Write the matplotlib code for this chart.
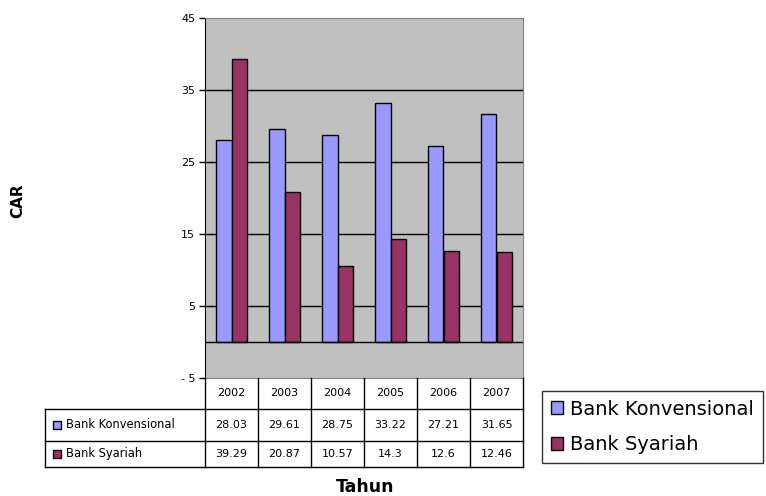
import numpy as np
import matplotlib.pyplot as plt
from matplotlib.patches import Patch, Rectangle

years = ["2002", "2003", "2004", "2005", "2006", "2007"]
konvensional = [28.03, 29.61, 28.75, 33.22, 27.21, 31.65]
syariah = [39.29, 20.87, 10.57, 14.3, 12.6, 12.46]
konv_labels = ["28.03", "29.61", "28.75", "33.22", "27.21", "31.65"]
syar_labels = ["39.29", "20.87", "10.57", "14.3", "12.6", "12.46"]
series_names = ["Bank Konvensional", "Bank Syariah"]

c_konv = "#9999FF"
c_syar = "#993366"
W, H = 766, 496

plt.rcParams['font.family'] = ['DejaVu Sans']
fig = plt.figure(figsize=(W / 100, H / 100), dpi=100)


def px_box(x0, y0, x1, y1):
    """ pixel box (top-left origin) to figure fractions """
    return [x0 / W, 1 - y1 / H, (x1 - x0) / W, (y1 - y0) / H]


# main plot
ax = fig.add_axes(px_box(205, 18, 523, 378))
ax.set_facecolor("#C0C0C0")
x = np.arange(len(years)) + 0.5
bw = 0.3
ax.bar(x - bw / 2, konvensional, bw, color=c_konv, edgecolor="black", linewidth=1, zorder=3)
ax.bar(x + bw / 2, syariah, bw, color=c_syar, edgecolor="black", linewidth=1, zorder=3)
ax.set_xlim(0, len(years))
ax.set_ylim(-5, 45)
yt = [-5, 5, 15, 25, 35, 45]
ax.set_yticks(yt)
ax.set_yticklabels(["- 5"] + [str(v) for v in yt[1:]], fontsize=8)
for v in yt[1:-1]:
    ax.axhline(v, color="black", linewidth=1, zorder=1)
ax.axhline(0, color="black", linewidth=1, zorder=4)
ax.set_xticks([])
ax.tick_params(axis="y", length=4, width=1, pad=3)
ax.spines["left"].set_color("black")
for s in ["top", "right", "bottom"]:
    ax.spines[s].set_color("#808080")

fig.text(18 / W, 1 - 201 / H, "CAR", rotation=90, ha="center", va="center",
         fontsize=11, fontweight="bold")

# data table below the axis
tab = fig.add_axes(px_box(45, 378, 523, 467))
lab_w = 160 / 53
tab.set_xlim(-lab_w, len(years))
rows = [0, 31, 63, 89]
tab.set_ylim(rows[-1], rows[0])
tab.axis("off")
lk = dict(color="black", linewidth=1, clip_on=False)
n = len(years)
tab.plot([0, 0], [rows[0], rows[-1]], **lk)
for i in range(1, n + 1):
    tab.plot([i, i], [rows[0], rows[-1]], **lk)
tab.plot([-lab_w, n], [rows[1], rows[1]], **lk)
tab.plot([-lab_w, n], [rows[2], rows[2]], **lk)
tab.plot([-lab_w, n], [rows[3], rows[3]], **lk)
tab.plot([-lab_w, -lab_w], [rows[1], rows[3]], **lk)
for i, yr in enumerate(years):
    tab.text(i + 0.5, (rows[0] + rows[1]) / 2, yr, ha="center", va="center", fontsize=8)
for r, (name, vals, col) in enumerate(zip(series_names, [konv_labels, syar_labels], [c_konv, c_syar])):
    yc = (rows[r + 1] + rows[r + 2]) / 2
    tab.add_patch(Rectangle((-lab_w + 0.15, yc - 4), 0.15, 8, facecolor=col,
                            edgecolor="black", linewidth=1, clip_on=False))
    tab.text(-lab_w + 0.4, yc, name, ha="left", va="center", fontsize=8.3)
    for i, v in enumerate(vals):
        tab.text(i + 0.5, yc, v, ha="center", va="center", fontsize=8)

fig.text(365 / W, 1 - 487 / H, "Tahun", ha="center", va="center", fontsize=12.5, fontweight="bold")

# legend
handles = [Patch(facecolor=c_konv, edgecolor="black"), Patch(facecolor=c_syar, edgecolor="black")]
leg = fig.legend(handles, series_names, loc="center left", bbox_to_anchor=(542 / W, 1 - 427 / H),
                 fontsize=14, frameon=True, fancybox=False, edgecolor="black",
                 handlelength=0.65, handleheight=0.65, handletextpad=0.35, labelspacing=0.85,
                 borderpad=0.45, borderaxespad=0)
leg.get_frame().set_linewidth(1)

fig.savefig("out.png", dpi=100)
